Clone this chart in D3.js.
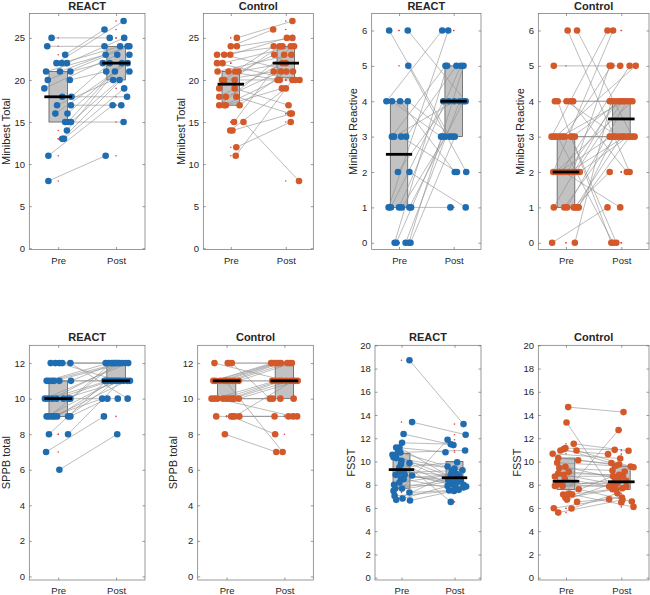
<!DOCTYPE html>
<html><head><meta charset="utf-8">
<script src="https://cdn.jsdelivr.net/npm/d3@7"></script>
<style>
body{margin:0;background:#fff}
svg{display:block}
text{font-family:"Liberation Sans",Arial,Helvetica,sans-serif;fill:#262626}
</style>
</head><body><svg id="c" width="650" height="595"></svg>
<script>
// ---------------- DATA ----------------
const categories = ["Pre", "Post"];
const titles = ["REACT", "Control", "REACT", "Control", "REACT", "Control", "REACT", "Control"];
const yLabels = ["Minibest Total", "Minibest Total", "Minibest Reactive", "Minibest Reactive",
                 "SPPB total", "SPPB total", "FSST", "FSST"];
const ticksMbTotal = [0, 5, 10, 15, 20, 25];
const ticksMbReactive = [0, 1, 2, 3, 4, 5, 6];
const ticksSppb = [0, 2, 4, 6, 8, 10, 12];
const ticksFsst = [0, 2, 4, 6, 8, 10, 12, 14, 16, 18, 20];
const groupColors = ["#1f6cb0", "#d4592a"]; // REACT, Control

// each point: [jittered category position, value]; Pre[i] is paired with Post[i]
const mbTotalReactPre = [[0.885,25],[0.81,24],[1.12,23],[0.97,22],[1.06,22],[1.15,22],[0.79,21],[1.03,21],[1.21,21],[0.82,20],[1.20,20],[0.76,19],[1.07,18],[1.23,18],[0.98,17],[1.22,17],[0.95,16],[1.16,16],[1.12,15],[1.17,15],[1.22,15],[1.15,14],[1.07,13],[1.10,13],[0.83,11],[0.83,8]];
const mbTotalReactPost = [[1.89,25],[1.80,24],[1.80,26],[2.13,27],[2.07,24],[2.14,25],[1.82,23],[2.20,24],[1.77,22],[2.23,24],[1.83,21],[2.02,23],[2.19,18],[1.89,22],[1.95,20],[2.09,17],[2.20,22],[1.98,21],[2.13,15],[2.10,22],[2.06,20],[2.23,23],[2.23,21],[2.14,19],[1.94,17],[1.82,11]];

const mbTotalCtrlPre = [[1.11,25],[1.00,24],[1.11,24],[0.75,23],[0.88,23],[0.99,23],[0.75,22],[0.85,22],[0.76,21],[0.96,21],[1.08,21],[1.14,21],[0.84,20],[0.88,20],[1.07,20],[0.79,19],[1.07,19],[0.79,18],[0.91,18],[1.10,18],[0.79,17],[0.88,17],[0.91,17],[1.16,17],[1.06,15],[1.23,15],[0.99,14],[1.03,14],[1.10,12],[1.09,11]];
const mbTotalCtrlPost = [[2.12,27],[1.77,26],[2.12,25],[1.94,24],[2.13,21],[2.02,25],[2.17,20],[2.15,24],[2.10,23],[1.89,20],[1.78,24],[2.00,22],[1.79,23],[1.78,21],[2.25,20],[1.89,24],[2.05,17],[1.94,22],[1.91,21],[2.08,16],[1.97,23],[1.85,20],[1.93,19],[2.01,21],[2.09,24],[2.24,8],[2.00,19],[2.11,16],[2.09,15],[2.12,20]];

const mbReactiveReactPre = [[0.82,6],[1.16,6],[1.17,5],[0.77,4],[0.87,4],[1.02,4],[1.16,4],[0.87,3],[0.91,3],[1.04,3],[1.13,3],[0.98,2],[1.19,2],[0.81,1],[0.85,1],[1.00,1],[1.05,1],[1.19,1],[1.22,1],[0.92,0],[0.95,0],[1.12,0],[1.18,0],[1.21,0]];
const mbReactiveReactPost = [[1.93,3],[2.22,4],[2.23,2],[1.79,6],[1.77,3],[2.02,2],[1.98,3],[1.85,5],[2.01,4],[2.06,2],[2.05,5],[1.91,4],[2.22,1],[1.90,6],[1.81,4],[2.13,5],[1.85,3],[2.18,4],[1.94,1],[1.88,5],[1.80,3],[2.11,4],[2.18,5],[2.02,3]];

const mbReactiveCtrlPre = [[1.03,6],[1.20,6],[0.78,5],[0.80,4],[0.85,4],[1.01,4],[1.08,4],[1.13,4],[0.74,3],[0.78,3],[0.81,3],[0.85,3],[0.90,3],[0.94,3],[0.98,3],[1.09,3],[1.12,3],[1.16,3],[0.77,2],[0.82,2],[0.87,2],[0.92,2],[0.96,2],[1.01,2],[1.06,2],[1.12,2],[1.18,2],[1.25,2],[0.78,1],[0.97,1],[1.02,1],[1.14,1],[1.17,1],[1.21,1],[1.23,1],[0.75,0],[1.16,0]];
const mbReactiveCtrlPost = [[2.15,2],[2.20,3],[1.98,5],[1.79,4],[1.82,0],[1.94,3],[2.10,2],[2.15,4],[1.75,6],[1.79,3],[2.26,5],[1.85,0],[2.05,4],[2.24,3],[1.82,5],[1.91,0],[1.98,4],[2.02,3],[1.85,6],[2.20,4],[1.82,3],[2.15,5],[1.98,1],[1.94,4],[2.06,3],[1.79,5],[2.02,4],[2.12,3],[1.88,4],[1.89,3],[2.10,4],[1.79,2],[2.00,3],[2.15,3],[1.86,3],[1.75,1],[1.82,4]];

const sppbReactPre = [[0.87,12],[0.95,12],[1.02,12],[1.07,12],[1.21,12],[0.80,11],[0.84,11],[0.89,11],[0.93,11],[1.02,11],[1.22,11],[0.77,10],[0.83,10],[0.90,10],[0.97,10],[1.09,10],[1.17,10],[1.21,10],[0.80,9],[0.84,9],[0.89,9],[0.93,9],[0.98,9],[1.17,9],[1.21,9],[0.84,8],[1.17,8],[0.79,7],[1.02,6]];
const sppbReactPost = [[1.82,12],[1.95,12],[2.05,11],[2.03,12],[2.20,10],[1.87,12],[2.06,12],[1.80,11],[2.16,12],[2.24,11],[1.98,12],[2.21,12],[1.86,11],[2.10,12],[1.91,11],[2.13,11],[2.03,10],[1.92,12],[1.98,11],[2.00,12],[1.76,10],[2.19,11],[1.94,11],[2.01,11],[1.85,10],[1.83,11],[2.08,11],[1.79,9],[2.02,8]];

const sppbCtrlPre = [[0.79,12],[1.02,12],[1.05,12],[1.09,12],[0.77,11],[0.81,11],[0.89,11],[0.95,11],[0.98,11],[1.00,11],[1.05,11],[1.10,11],[1.15,11],[1.21,11],[0.74,10],[0.79,10],[0.84,10],[0.94,10],[1.00,10],[1.06,10],[1.10,10],[1.13,10],[1.21,10],[0.82,9],[1.08,9],[1.11,9],[1.14,9],[1.22,9],[0.97,8]];
const sppbCtrlPost = [[2.03,11],[1.77,12],[2.09,12],[1.75,10],[1.79,12],[1.83,12],[1.87,12],[1.91,12],[1.97,7],[1.79,11],[1.94,12],[2.05,12],[2.18,11],[2.13,12],[1.80,10],[1.85,11],[2.15,9],[1.91,11],[1.93,10],[1.96,11],[2.10,11],[2.16,10],[2.23,11],[1.83,9],[1.84,8],[2.07,9],[2.15,11],[2.22,9],[1.86,7]];

const fsstReactPre = [[1.15,18.71],[1.20,13.39],[1.04,12.36],[1.01,11.61],[0.90,11.21],[0.96,11.21],[0.93,10.78],[0.98,10.78],[0.83,10.57],[0.85,10.37],[0.90,10.29],[1.00,10.06],[1.15,9.86],[0.99,9.77],[0.96,9.48],[1.04,9.14],[0.95,9.05],[0.89,8.85],[1.06,8.85],[1.20,8.79],[0.99,8.53],[1.04,8.48],[0.96,8.19],[0.86,7.99],[0.88,7.67],[1.01,7.67],[0.85,7.47],[1.15,7.33],[0.87,7.04],[1.02,6.81],[0.90,6.70],[1.16,6.64]];
const fsstReactPost = [[2.17,13.22],[2.21,12.30],[1.98,11.41],[1.93,11.49],[1.83,10.80],[2.07,8.28],[2.20,10.95],[1.87,9.57],[2.12,8.36],[2.15,9.25],[2.22,7.85],[1.93,6.52],[2.00,9.40],[1.92,8.07],[2.05,9.94],[2.09,8.74],[1.95,9.20],[1.88,8.42],[2.17,7.99],[2.17,7.76],[2.04,8.91],[2.00,7.64],[1.93,8.85],[1.87,7.90],[2.03,8.56],[1.87,11.87],[1.99,8.36],[1.90,7.50],[1.99,7.47],[2.02,8.07],[1.96,9.00],[2.08,7.56]];

const fsstCtrlPre = [[1.04,14.68],[1.01,13.36],[1.14,11.52],[0.99,11.15],[0.96,11.06],[0.90,10.95],[1.19,10.95],[0.76,10.66],[0.86,10.29],[1.22,10.11],[0.84,9.89],[0.99,9.54],[0.88,9.43],[1.05,9.11],[0.86,8.97],[0.96,8.85],[0.80,8.71],[0.98,8.48],[0.88,8.10],[0.82,7.96],[0.94,7.90],[1.23,7.61],[0.80,7.90],[0.95,7.16],[1.02,7.13],[1.06,7.24],[1.11,7.16],[0.99,6.87],[1.02,6.72],[1.20,6.52],[0.78,5.98],[1.10,5.95],[0.86,5.60]];
const fsstCtrlPost = [[2.04,14.25],[2.00,6.47],[2.13,10.92],[1.88,11.00],[1.82,9.86],[1.76,10.63],[2.17,9.57],[1.98,10.26],[1.96,9.74],[2.22,9.51],[1.90,9.63],[2.09,8.33],[1.84,9.22],[2.03,8.71],[1.96,8.85],[2.09,7.85],[1.85,8.74],[2.02,7.70],[1.92,8.10],[1.85,7.93],[1.90,8.42],[2.19,6.55],[1.78,7.85],[1.95,12.70],[1.84,7.61],[2.06,9.14],[2.22,6.09],[1.90,7.61],[1.96,8.33],[2.01,6.90],[1.78,6.75],[1.93,7.27],[2.02,6.70]];

// box statistics [Q1, median, Q3] for Pre and Post
const boxMbTotalReact = [[15, 18, 21], [20, 22, 24]];
const boxMbTotalCtrl = [[17, 19.5, 21], [20.25, 22, 24]];
const boxMbReactiveReact = [[1, 2.5, 4], [3, 4, 5]];
const boxMbReactiveCtrl = [[1, 2, 3], [3, 3.5, 4]];
const boxSppbReact = [[9, 10, 11], [11, 11, 12]];
const boxSppbCtrl = [[10, 11, 11], [10, 11, 12]];
const boxFsstReact = [[7.7, 9.3, 10.7], [7.85, 8.6, 10.0]];
const boxFsstCtrl = [[7.6, 8.3, 10.3], [7.6, 8.25, 9.6]];

// ---------------- PANEL TABLE ----------------
const panels = [
  {pre: mbTotalReactPre, post: mbTotalReactPost, box: boxMbTotalReact, ticks: ticksMbTotal, dom: [-0.15, 27.9], grp: 0},
  {pre: mbTotalCtrlPre, post: mbTotalCtrlPost, box: boxMbTotalCtrl, ticks: ticksMbTotal, dom: [-0.15, 27.9], grp: 1},
  {pre: mbReactiveReactPre, post: mbReactiveReactPost, box: boxMbReactiveReact, ticks: ticksMbReactive, dom: [-0.19, 6.48], grp: 0},
  {pre: mbReactiveCtrlPre, post: mbReactiveCtrlPost, box: boxMbReactiveCtrl, ticks: ticksMbReactive, dom: [-0.19, 6.48], grp: 1},
  {pre: sppbReactPre, post: sppbReactPost, box: boxSppbReact, ticks: ticksSppb, dom: [-0.2, 13], grp: 0},
  {pre: sppbCtrlPre, post: sppbCtrlPost, box: boxSppbCtrl, ticks: ticksSppb, dom: [-0.2, 13], grp: 1},
  {pre: fsstReactPre, post: fsstReactPost, box: boxFsstReact, ticks: ticksFsst, dom: [-0.2, 20], grp: 0},
  {pre: fsstCtrlPre, post: fsstCtrlPost, box: boxFsstCtrl, ticks: ticksFsst, dom: [-0.2, 20], grp: 1}
];

// ---------------- LAYOUT ----------------
const rects = [
  {l: 29.3, r: 145, t: 13.5, b: 249.5},
  {l: 203.3, r: 313.3, t: 13.5, b: 249.5},
  {l: 371.7, r: 481, t: 13.5, b: 249.5},
  {l: 538.3, r: 649, t: 13.5, b: 249.5},
  {l: 29.3, r: 145, t: 345.3, b: 580},
  {l: 197.7, r: 313.3, t: 345.3, b: 580},
  {l: 375, r: 481, t: 345.3, b: 580},
  {l: 538.3, r: 649, t: 345.3, b: 580}
];
const yLabelOffset = [19.3, 18.5, 15, 14, 19.3, 20.5, 20, 17.5];

const svg = d3.select("#c");
const axisColor = "#6e6e6e";

panels.forEach((p, i) => {
  const R = rects[i];
  const x = d3.scaleLinear().domain([0.5, 2.5]).range([R.l, R.r]);
  const y = d3.scaleLinear().domain(p.dom).range([R.b, R.t]);
  const g = svg.append("g");
  const col = groupColors[p.grp];

  // boxes
  p.box.forEach((b, k) => {
    const cx = k + 1;
    g.append("rect")
      .attr("x", x(cx - 0.16)).attr("width", x(cx + 0.16) - x(cx - 0.16))
      .attr("y", y(b[2])).attr("height", Math.max(0, y(b[0]) - y(b[2])))
      .attr("fill", "#c2c2c2").attr("stroke", "#4a4a4a").attr("stroke-width", 0.7);
  });

  // outlier markers (values outside box) at category centre
  [p.pre, p.post].forEach((arr, k) => {
    const b = p.box[k];
    g.selectAll(null).data(arr.filter(d => d[1] < b[0] || d[1] > b[2])).enter()
      .append("circle").attr("cx", x(k + 1)).attr("cy", d => y(d[1])).attr("r", 0.8)
      .attr("fill", "#e8404a");
  });

  // paired lines
  g.selectAll(null).data(d3.range(p.pre.length)).enter().append("line")
    .attr("x1", j => x(p.pre[j][0])).attr("y1", j => y(p.pre[j][1]))
    .attr("x2", j => x(p.post[j][0])).attr("y2", j => y(p.post[j][1]))
    .attr("stroke", "#8f8f8f").attr("stroke-width", 0.6);

  // points
  g.selectAll(null).data(p.pre.concat(p.post)).enter().append("circle")
    .attr("cx", d => x(d[0])).attr("cy", d => y(d[1])).attr("r", 3.3)
    .attr("fill", col);

  // medians
  p.box.forEach((b, k) => {
    const cx = k + 1;
    g.append("line").attr("x1", x(cx - 0.24)).attr("x2", x(cx + 0.24))
      .attr("y1", y(b[1])).attr("y2", y(b[1]))
      .attr("stroke", "#000").attr("stroke-width", 2.8);
  });

  // frame
  g.append("rect").attr("x", R.l).attr("y", R.t).attr("width", R.r - R.l).attr("height", R.b - R.t)
    .attr("fill", "none").attr("stroke", axisColor).attr("stroke-width", 0.7);

  const style = sel => {
    sel.select(".domain").remove();
    sel.selectAll(".tick line").attr("stroke", axisColor).attr("stroke-width", 0.7);
    sel.selectAll("text").attr("font-family", '"Liberation Sans",Arial,sans-serif')
      .attr("font-size", 9.5).attr("fill", "#262626");
    sel.attr("font-family", null).attr("font-size", null);
  };
  g.append("g").attr("transform", `translate(${R.l},0)`)
    .call(d3.axisLeft(y).tickValues(p.ticks).tickSize(-2.5).tickPadding(4.3).tickFormat(d3.format("d"))).call(style);
  g.append("g").attr("transform", `translate(${R.r},0)`)
    .call(d3.axisRight(y).tickValues(p.ticks).tickSize(-2.5).tickFormat("")).call(style);
  g.append("g").attr("transform", `translate(0,${R.b})`)
    .call(d3.axisBottom(x).tickValues([1, 2]).tickSize(-2.5).tickPadding(7.3).tickFormat(d => categories[d - 1])).call(style);
  g.append("g").attr("transform", `translate(0,${R.t})`)
    .call(d3.axisTop(x).tickValues([1, 2]).tickSize(-2.5).tickFormat("")).call(style);

  // title
  g.append("text").attr("x", (R.l + R.r) / 2).attr("y", R.t - 4)
    .attr("text-anchor", "middle").attr("font-size", 11).attr("font-weight", "bold")
    .attr("fill", "#000").text(titles[i]);

  // y label
  const yl = R.l - yLabelOffset[i], ym = (R.t + R.b) / 2;
  g.append("text").attr("transform", `translate(${yl},${ym}) rotate(-90)`)
    .attr("text-anchor", "middle").attr("font-size", 11).attr("fill", "#262626")
    .text(yLabels[i]);
});
</script>
</body></html>
